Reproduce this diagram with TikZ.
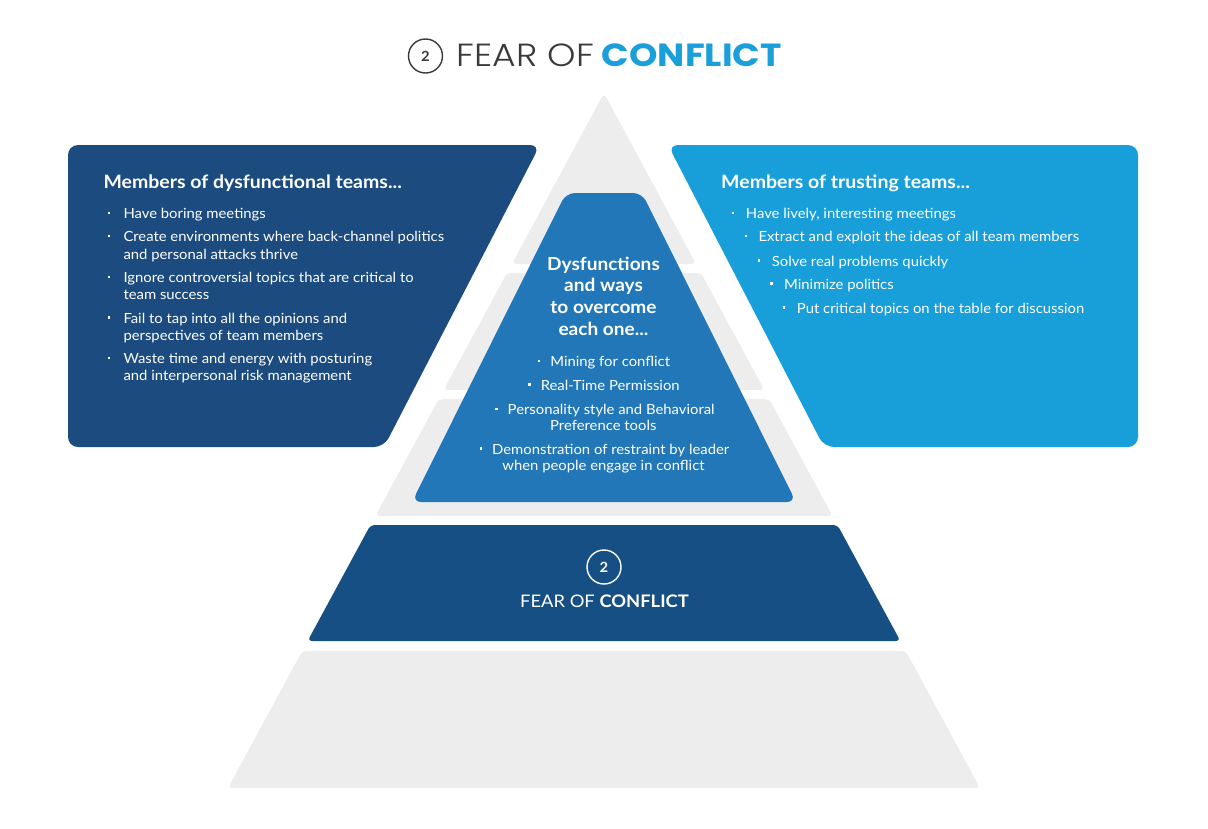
\documentclass[tikz,border=0pt]{standalone}
\usepackage{fontspec}
\setmainfont{Lato}[FakeStretch=1.06]
\newfontfamily\popl{Poppins Light}[FakeStretch=1.13]
\newfontfamily\popb{Poppins Bold}[FakeStretch=1.13]
\definecolor{grayl}{HTML}{EDEDED}
\definecolor{dkblue}{HTML}{1C4B7F}
\definecolor{layerblue}{HTML}{164F83}
\definecolor{midblue}{HTML}{2277B8}
\definecolor{ltblue}{HTML}{189FDA}
\definecolor{titleblue}{HTML}{1A9FDB}
\definecolor{titlegray}{HTML}{3A3A3A}
\newcommand\bdot{\raisebox{4.4pt}{\rule{2.4pt}{2.4pt}}}
\begin{document}
\begin{tikzpicture}[x=1pt,y=-1pt,
  layer/.style={fill=grayl, rounded corners=4pt},
  itemtext/.style={anchor=base west, inner sep=0pt, text=white, font=\fontsize{14}{16}\selectfont},
  ctext/.style={anchor=base, inner sep=0pt, text=white, font=\fontsize{14}{16}\selectfont},
  headtext/.style={anchor=base west, inner sep=0pt, text=white, font=\fontsize{18.4}{20}\selectfont\bfseries},
  ctitle/.style={anchor=base, inner sep=0pt, text=white, font=\fontsize{18}{20}\selectfont\bfseries},
]
\useasboundingbox (0,0) rectangle (1208,828);
% pyramid gray layers
\fill[layer, rounded corners=5pt] (604,93) -- (696.1,264) -- (511.9,264) -- cycle;
\fill[layer] (507.0,273) -- (701.0,273) -- (764.4,390) -- (443.6,390) -- cycle;
\fill[layer] (438.8,399) -- (769.2,399) -- (832.6,516) -- (375.4,516) -- cycle;
\fill[layer] (302.2,651) -- (905.8,651) -- (980,788) -- (228,788) -- cycle;
% layer 4 dark blue
\fill[layerblue, rounded corners=4pt] (370.5,525) -- (837.5,525) -- (900.4,641) -- (307.6,641) -- cycle;
% inner trapezoid
\fill[midblue, rounded corners=9pt] (412,502) -- (566,193) -- (642,193) -- (796,502) -- cycle;
% side boxes
\fill[dkblue, rounded corners=10pt] (68,145) -- (540,145) -- (384,447) -- (68,447) -- cycle;
\fill[ltblue, rounded corners=10pt] (668,145) -- (1138,145) -- (1138,447) -- (824,447) -- cycle;

% title
\node[draw=titlegray, line width=1.4pt, circle, minimum size=34pt, inner sep=0pt, text=titlegray, font=\fontsize{14}{14}\selectfont\bfseries] (tcirc) at (425.5,56) {2};
\node[anchor=base west, inner sep=0pt, text=titlegray, font=\fontsize{32}{32}\popl] (tfear) at (456.7,66) {FEAR OF};
\node[anchor=base west, inner sep=0pt, text=titleblue, font=\fontsize{32}{32}\popb] (tconf) at (601.7,66) {CONFLICT};

% left box
\node[headtext] (lh) at (103.3,188.3) {Members of dysfunctional teams...};
\node[itemtext] (l1) at (107.3,218.3) {\makebox[16pt][l]{\bdot}Have boring meetings};
\node[itemtext] (l2) at (107.3,241.7) {\makebox[16pt][l]{\bdot}Create environments where back-channel politics};
\node[itemtext] (l2b) at (123.3,259) {and personal attacks thrive};
\node[itemtext] (l3) at (107.3,282.3) {\makebox[16pt][l]{\bdot}Ignore controversial topics that are critical to};
\node[itemtext] (l3b) at (123.3,299.3) {team success};
\node[itemtext] (l4) at (107.3,323) {\makebox[16pt][l]{\bdot}Fail to tap into all the opinions and};
\node[itemtext] (l4b) at (123.3,340) {perspectives of team members};
\node[itemtext] (l5) at (107.3,363.3) {\makebox[16pt][l]{\bdot}Waste time and energy with posturing};
\node[itemtext] (l5b) at (123.3,380) {and interpersonal risk management};

% right box
\node[headtext] (rh) at (721,188.3) {Members of trusting teams...};
\node[itemtext] (r1) at (731.7,218.3) {\makebox[14pt][l]{\bdot}Have lively, interesting meetings};
\node[itemtext] (r2) at (744.3,241.7) {\makebox[14pt][l]{\bdot}Extract and exploit the ideas of all team members};
\node[itemtext] (r3) at (757.7,266) {\makebox[14pt][l]{\bdot}Solve real problems quickly};
\node[itemtext] (r4) at (770,289) {\makebox[14pt][l]{\bdot}Minimize politics};
\node[itemtext] (r5) at (782.7,313) {\makebox[14pt][l]{\bdot}Put critical topics on the table for discussion};

% center
\node[ctitle] (c1) at (603.5,270) {Dysfunctions};
\node[ctitle] (c2) at (603.5,291.7) {and ways};
\node[ctitle] (c3) at (603.5,313.3) {to overcome};
\node[ctitle] (c4) at (603.5,335) {each one...};
\node[ctext] (m1) at (604,366.7) {\bdot\hspace{10pt}Mining for conflict};
\node[ctext] (m2) at (604,390) {\bdot\hspace{10pt}Real-Time Permission};
\node[ctext] (m3) at (605,414.3) {\bdot\hspace{10pt}Personality style and Behavioral};
\node[ctext] (m3b) at (603.3,430.7) {Preference tools};
\node[ctext] (m4) at (604.5,454) {\bdot\hspace{10pt}Demonstration of restraint by leader};
\node[ctext] (m4b) at (603.5,470.7) {when people engage in conflict};

% layer 4 label
\node[draw=white, line width=1.4pt, circle, minimum size=34pt, inner sep=0pt, text=white, font=\fontsize{14}{14}\selectfont\bfseries] (bcirc) at (604,567) {2};
\node[anchor=base, inner sep=0pt, text=white, font=\fontsize{17.3}{18}\selectfont] (blab) at (604.5,607) {FEAR OF \textbf{CONFLICT}};
\end{tikzpicture}
\end{document}
